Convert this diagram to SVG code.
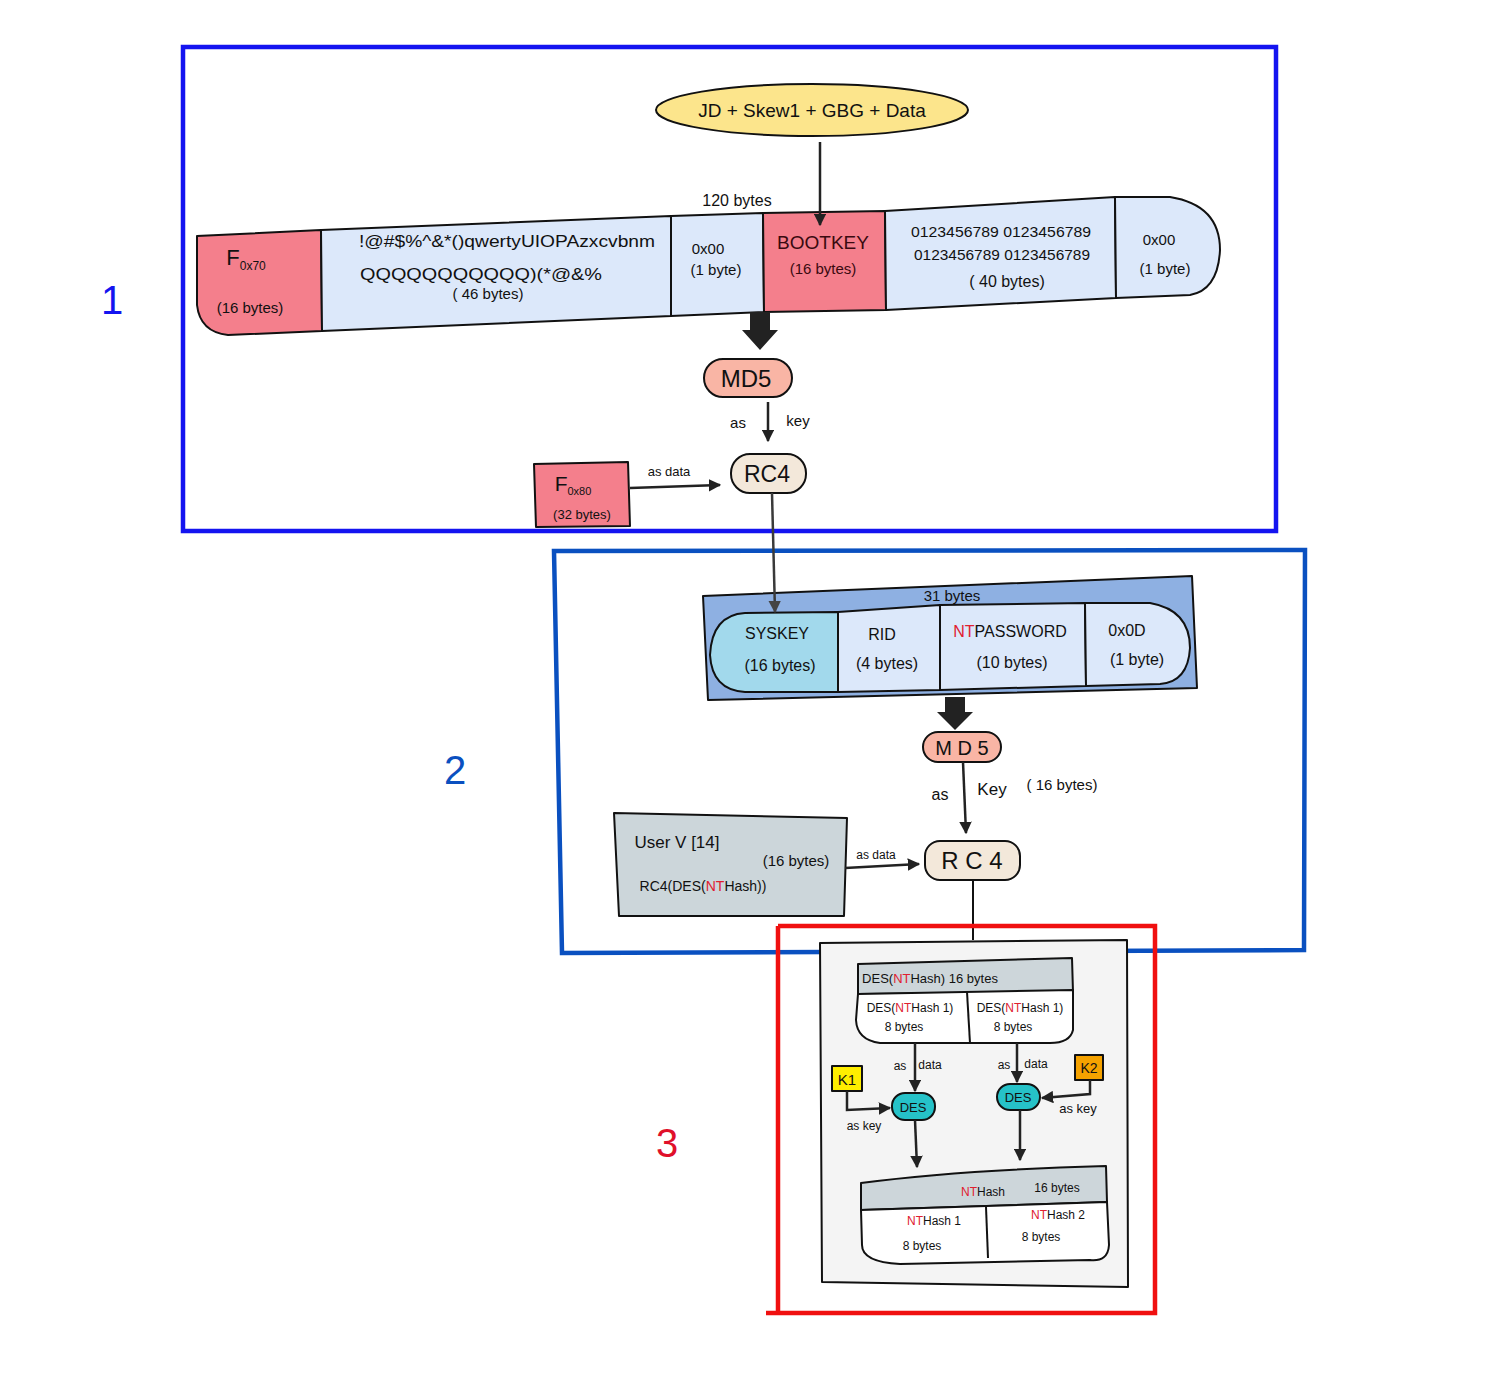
<svg xmlns="http://www.w3.org/2000/svg" width="1490" height="1396" viewBox="0 0 1490 1396">
<defs>
<style>
text{font-family:"Liberation Sans","DejaVu Sans",sans-serif;fill:#111;text-anchor:middle}
.s{stroke:#111;stroke-width:2;stroke-linejoin:round}
.lb{fill:#dce8fa}
.pk{fill:#f47f8c}
.red{fill:#e02030}
.ln{fill:none;stroke:#222;stroke-width:2.5}
.frame{fill:none;stroke-width:4.5}
</style>
<marker id="ah" viewBox="0 0 10 10" refX="9" refY="5" markerWidth="5" markerHeight="5" orient="auto-start-reverse"><path d="M0,0 L10,5 L0,10 z" fill="#222"/></marker>
<marker id="ahg" viewBox="0 0 10 10" refX="9" refY="5" markerWidth="5" markerHeight="5" orient="auto"><path d="M0,0 L10,5 L0,10 z" fill="#444"/></marker>
</defs>
<rect width="1490" height="1396" fill="#fff"/>

<!-- frames -->
<g id="frame1">
<rect class="frame" x="183" y="47" width="1093" height="484" stroke="#1414f0"/>
<text x="112" y="314" font-size="40" style="fill:#1414f0">1</text>
</g>
<g id="frame2">
<path class="frame" d="M554,551 L1305,550 L1304,950 L562,953 Z" stroke="#0a50c0"/>
<text x="455" y="784" font-size="40" style="fill:#0a50c0">2</text>
</g>

<!-- section 3 panel -->
<g id="panel3">
<path d="M820,943 L1127,940 L1128,1287 L822,1282 Z" fill="#f4f4f4" class="s"/>
</g>

<!-- Section 1 nodes -->
<g id="input">
<ellipse cx="812" cy="110" rx="156" ry="26" fill="#fce58c" class="s"/>
<text x="812" y="117" font-size="19">JD + Skew1 + GBG + Data</text>
</g>
<text x="737" y="206" font-size="16">120 bytes</text>

<g id="bar1">
<path d="M197,236 L321,230 L322,331 L228,335 Q200,332 197,305 Z" class="pk s"/>
<path d="M321,230 L671,216 L671,316 L322,331 Z" class="lb s"/>
<path d="M671,216 L763,213 L764,312 L671,316 Z" class="lb s"/>
<path d="M763,213 L885,211 L886,310 L764,312 Z" class="pk s"/>
<path d="M885,211 L1115,197 L1116,298 L886,310 Z" class="lb s"/>
<path d="M1115,197 L1170,197 Q1220,205 1220,250 Q1218,290 1190,295 L1116,298 Z" class="lb s"/>
<text x="246" y="265" font-size="22">F<tspan font-size="12" dy="5">0x70</tspan></text>
<text x="250" y="313" font-size="15">(16 bytes)</text>
<text x="507" y="247" font-size="16" textLength="296" lengthAdjust="spacingAndGlyphs">!@#$%^&amp;*()qwertyUIOPAzxcvbnm</text>
<text x="481" y="280" font-size="16" textLength="242" lengthAdjust="spacingAndGlyphs">QQQQQQQQQQQ)(*@&amp;%</text>
<text x="488" y="299" font-size="15">( 46  bytes)</text>
<text x="708" y="254" font-size="15">0x00</text>
<text x="716" y="275" font-size="15">(1 byte)</text>
<text x="823" y="249" font-size="19" style="fill:#3a0a10">BOOTKEY</text>
<text x="823" y="274" font-size="15" style="fill:#3a0a10">(16 bytes)</text>
<text x="1001" y="237" font-size="15" textLength="180" lengthAdjust="spacingAndGlyphs">0123456789 0123456789</text>
<text x="1002" y="260" font-size="15" textLength="176" lengthAdjust="spacingAndGlyphs">0123456789 0123456789</text>
<text x="1007" y="287" font-size="16">( 40  bytes)</text>
<text x="1159" y="245" font-size="15">0x00</text>
<text x="1165" y="274" font-size="15">(1 byte)</text>
</g>

<g id="md5a">
<rect x="704" y="359" width="88" height="38" rx="19" fill="#f9b5a5" class="s"/>
<text x="746" y="387" font-size="24">MD5</text>
</g>
<g id="rc4a">
<rect x="731" y="454" width="75" height="39" rx="19" fill="#f3e8da" class="s"/>
<text x="767" y="482" font-size="23">RC4</text>
</g>
<g id="f80">
<path d="M534,464 L628,462 L630,526 L536,527 Z" class="pk s"/>
<text x="573" y="491" font-size="21">F<tspan font-size="11" dy="4">0x80</tspan></text>
<text x="582" y="519" font-size="13">(32 bytes)</text>
</g>

<!-- Section 2 nodes -->
<g id="bar2">
<path d="M703,596 L1192,576 L1197,688 L708,700 Z" fill="#8eb0e2" class="s"/>
<path d="M838,612 L838,692 L745,692 Q712,690 710,655 Q712,615 745,613 Z" fill="#a2d9ec" class="s"/>
<path d="M838,612 L940,605 L940,690 L838,692 Z" class="lb s"/>
<path d="M940,605 L1085,603 L1086,686 L940,690 Z" class="lb s"/>
<path d="M1085,603 L1150,603 Q1190,610 1190,648 Q1188,682 1160,684 L1086,686 Z" class="lb s"/>
<text x="952" y="601" font-size="15">31 bytes</text>
<text x="777" y="639" font-size="16">SYSKEY</text>
<text x="780" y="671" font-size="16">(16 bytes)</text>
<text x="882" y="640" font-size="16">RID</text>
<text x="887" y="669" font-size="16">(4 bytes)</text>
<text x="1010" y="637" font-size="16"><tspan class="red">NT</tspan>PASSWORD</text>
<text x="1012" y="668" font-size="16">(10 bytes)</text>
<text x="1127" y="636" font-size="16">0x0D</text>
<text x="1137" y="665" font-size="16">(1 byte)</text>
</g>

<g id="md5b">
<rect x="923" y="732" width="78" height="30" rx="15" fill="#f9b5a5" class="s"/>
<text x="962" y="755" font-size="20">M D 5</text>
</g>
<g id="rc4b">
<rect x="925" y="841" width="95" height="39" rx="15" fill="#f3e8da" class="s"/>
<text x="972" y="869" font-size="24">R C 4</text>
</g>
<g id="userv">
<path d="M614,813 L847,818 L844,916 L619,916 Z" fill="#ccd6da" class="s"/>
<text x="677" y="848" font-size="17">User V [14]</text>
<text x="796" y="866" font-size="15">(16 bytes)</text>
<text x="703" y="891" font-size="14">RC4(DES(<tspan class="red">NT</tspan>Hash))</text>
</g>

<!-- Section 3 nodes -->
<g id="desnt">
<path d="M858,964 L1072,958 L1073,992 L858,994 Z" fill="#cdd6da" class="s"/>
<path d="M858,994 L1073,990 L1073,1030 Q1070,1043 1050,1043 L880,1043 Q857,1040 856,1020 Z" fill="#fff" class="s"/>
<path d="M967,992 L970,1043" class="s" fill="none"/>
<text x="930" y="983" font-size="13">DES(<tspan class="red">NT</tspan>Hash)  16 bytes</text>
<text x="910" y="1012" font-size="12">DES(<tspan class="red">NT</tspan>Hash 1)</text>
<text x="904" y="1031" font-size="12">8 bytes</text>
<text x="1020" y="1012" font-size="12">DES(<tspan class="red">NT</tspan>Hash 1)</text>
<text x="1013" y="1031" font-size="12">8 bytes</text>
</g>
<g id="k1">
<rect x="832" y="1066" width="30" height="25" fill="#ffee00" class="s"/>
<text x="847" y="1085" font-size="15">K1</text>
</g>
<g id="k2">
<rect x="1075" y="1055" width="28" height="25" fill="#f5a200" class="s"/>
<text x="1089" y="1073" font-size="14">K2</text>
</g>
<g id="des1">
<rect x="892" y="1093" width="43" height="27" rx="13" fill="#26c2c8" class="s"/>
<text x="913" y="1112" font-size="13">DES</text>
</g>
<g id="des2">
<rect x="997" y="1084" width="43" height="26" rx="13" fill="#26c2c8" class="s"/>
<text x="1018" y="1102" font-size="13">DES</text>
</g>
<g id="nthash">
<path d="M861,1183 Q960,1170 1106,1166 L1107,1202 L861,1210 Z" fill="#cdd6da" class="s"/>
<path d="M861,1210 L1107,1202 L1109,1245 Q1108,1262 1090,1260 L900,1264 Q862,1262 862,1245 Z" fill="#fff" class="s"/>
<path d="M986,1207 L988,1258" class="s" fill="none"/>
<text x="983" y="1196" font-size="12"><tspan class="red">NT</tspan>Hash</text>
<text x="1057" y="1192" font-size="12">16 bytes</text>
<text x="934" y="1225" font-size="12"><tspan class="red">NT</tspan>Hash 1</text>
<text x="922" y="1250" font-size="12">8 bytes</text>
<text x="1058" y="1219" font-size="12"><tspan class="red">NT</tspan>Hash 2</text>
<text x="1041" y="1241" font-size="12">8 bytes</text>
</g>

<!-- connectors -->
<g id="connectors">
<path class="ln" d="M820,142 L820,225" marker-end="url(#ah)"/>
<path d="M750,312 L770,312 L770,330 L778,330 L760,350 L742,330 L750,330 Z" fill="#222"/>
<path class="ln" d="M768,402 L768,441" marker-end="url(#ah)"/>
<text x="738" y="428" font-size="15">as</text>
<text x="798" y="426" font-size="15">key</text>
<path class="ln" d="M630,488 L720,485" marker-end="url(#ah)"/>
<text x="669" y="476" font-size="13">as  data</text>
<path d="M772,493 L775,612" fill="none" stroke="#3a3a3a" stroke-width="2.5" marker-end="url(#ahg)"/>

<path d="M945,697 L965,697 L965,712 L973,712 L955,730 L937,712 L945,712 Z" fill="#222"/>
<path class="ln" d="M963,762 L966,833" marker-end="url(#ah)"/>
<text x="940" y="800" font-size="16">as</text>
<text x="992" y="795" font-size="17">Key</text>
<text x="1062" y="790" font-size="15">( 16 bytes)</text>
<path class="ln" d="M845,868 L919,864" marker-end="url(#ah)"/>
<text x="876" y="859" font-size="12">as data</text>
<path d="M973,880 L973,940" fill="none" stroke="#111" stroke-width="2"/>

<path class="ln" d="M915,1043 L915,1091" stroke-width="2" marker-end="url(#ah)"/>
<text x="900" y="1070" font-size="12">as</text>
<text x="930" y="1069" font-size="12">data</text>
<path class="ln" d="M1017,1043 L1017,1082" stroke-width="2" marker-end="url(#ah)"/>
<text x="1004" y="1069" font-size="12">as</text>
<text x="1036" y="1068" font-size="12">data</text>
<path class="ln" d="M847,1091 L847,1110 L890,1108" stroke-width="3.5" marker-end="url(#ah)"/>
<text x="864" y="1130" font-size="12">as key</text>
<path class="ln" d="M1090,1080 L1090,1094 L1042,1098" stroke-width="3" marker-end="url(#ah)"/>
<text x="1078" y="1113" font-size="13">as key</text>
<path class="ln" d="M915,1120 L917,1167" stroke-width="2" marker-end="url(#ah)"/>
<path class="ln" d="M1020,1110 L1020,1160" stroke-width="2" marker-end="url(#ah)"/>
</g>

<g id="frame3">
<path class="frame" d="M778,926 L1155,926 L1155,1313 L766,1313 M778,926 L778,1313" stroke="#f01010"/>
<text x="667" y="1157" font-size="40" style="fill:#e0102a">3</text>
</g>
</svg>
